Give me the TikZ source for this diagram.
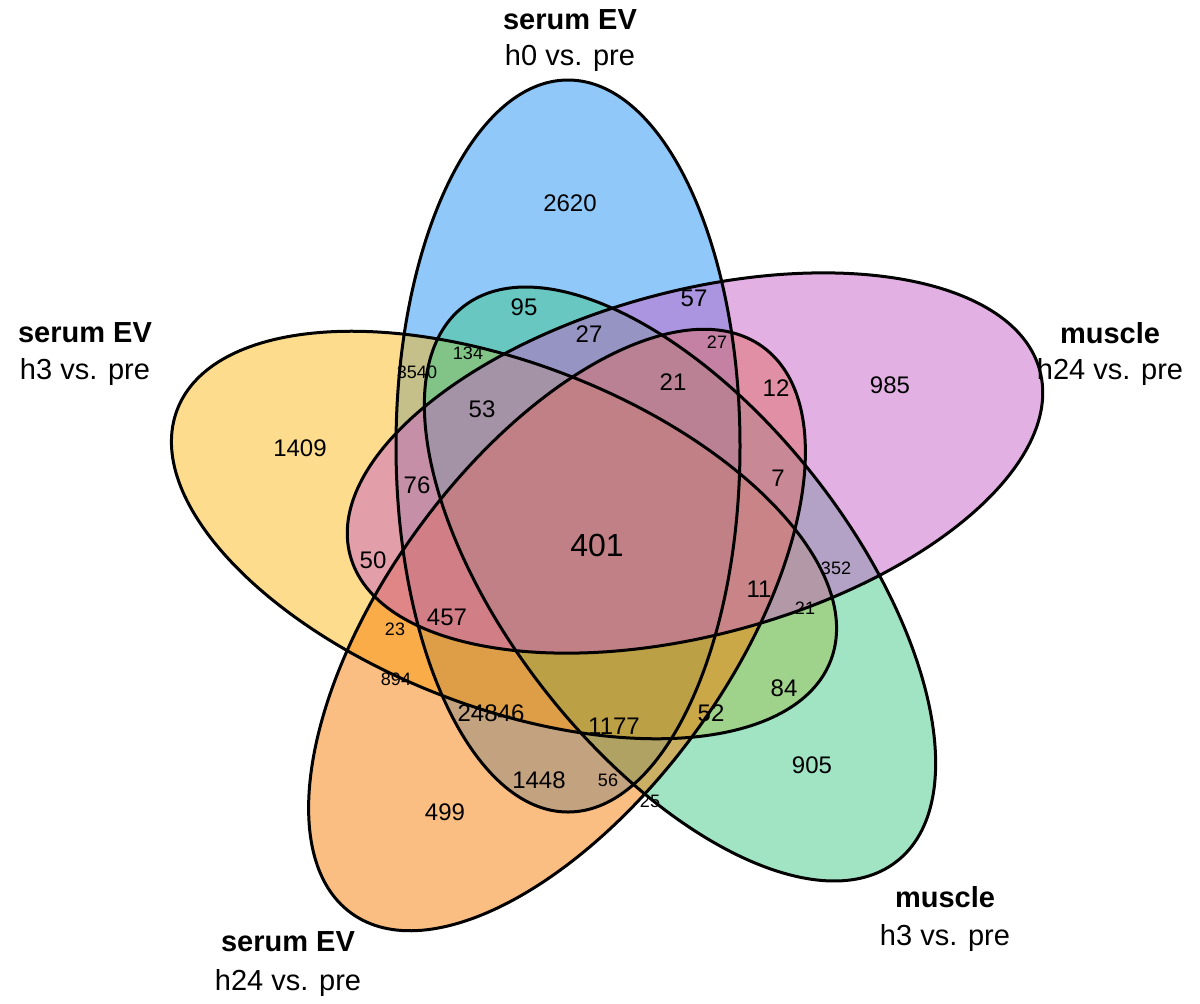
\documentclass[tikz,border=0pt]{standalone}
\usepackage{fontspec}
\setmainfont{Liberation Sans}
\definecolor{cblue}{RGB}{33,145,245}
\definecolor{cyellow}{RGB}{251,185,27}
\definecolor{cpurple}{RGB}{199,97,199}
\definecolor{cgreen}{RGB}{65,201,137}
\definecolor{corange}{RGB}{247,125,5}
\begin{document}
\begin{tikzpicture}[x=0.5pt,y=0.5pt,
  setfill/.style={fill=#1,fill opacity=0.5,draw=none},
  setline/.style={draw=black,line width=1.5pt},
  num/.style={font=\fontsize{12}{14}\selectfont},
  snum/.style={font=\fontsize{9}{11}\selectfont},
  lab/.style={font=\fontsize{14.5}{17}\selectfont\bfseries},
  sub/.style={font=\fontsize{14.5}{17}\selectfont}]
\useasboundingbox (0,0) rectangle (1200,-1003);
\def\rb{172}
\foreach \c/\x/\y/\a/\r in {cblue/568/-446/90/366, cyellow/504/-535/-21/350, cgreen/680/-584/-52/352, corange/557/-630/54/350, cpurple/695/-463/15/357}{
  \fill[setfill=\c, rotate around={\a:(\x,\y)}] (\x,\y) ellipse [x radius=\r, y radius=\rb];
}
\foreach \x/\y/\a/\r in {568/-446/90/366, 504/-535/-21/350, 680/-584/-52/352, 557/-630/54/350, 695/-463/15/357}{
  \draw[setline, rotate around={\a:(\x,\y)}] (\x,\y) ellipse [x radius=\r, y radius=\rb];
}
% labels
\node[lab] (l1) at (570,-20) {serum EV};
\node[sub] (s1) at (570,-58) {h0 vs. pre};
\node[lab] (l2) at (85,-333) {serum EV};
\node[sub] (s2) at (85,-372) {h3 vs. pre};
\node[lab] (l3) at (1110,-333) {muscle};
\node[sub] (s3) at (1110,-372) {h24 vs. pre};
\node[lab] (l4) at (945,-897) {muscle};
\node[sub] (s4) at (945,-938) {h3 vs. pre};
\node[lab] (l5) at (288,-942) {serum EV};
\node[sub] (s5) at (288,-983) {h24 vs. pre};
% numbers
\node[num] (n1) at (570,-203) {2620};
\node[num] (n2) at (300,-448) {1409};
\node[num] (n3) at (890,-385) {985};
\node[num] (n4) at (812,-765) {905};
\node[num] (n5) at (445,-812) {499};
\node[num] (n6) at (524,-307) {95};
\node[num] (n7) at (694,-298) {57};
\node[num] (n8) at (589,-334) {27};
\node[snum] (n9) at (717,-342) {27};
\node[snum] (n10) at (468,-353) {134};
\node[snum] (n11) at (417,-372) {3540};
\node[num] (n12) at (673,-382) {21};
\node[num] (n13) at (776,-388) {12};
\node[num] (n14) at (482,-409) {53};
\node[num] (n15) at (417,-485) {76};
\node[num] (n16) at (778,-478) {7};
\node[font=\fontsize{16}{19}\selectfont] (n17) at (597,-545) {401};
\node[num] (n18) at (373,-560) {50};
\node[snum] (n19) at (836,-568) {352};
\node[num] (n20) at (759,-589) {11};
\node[snum] (n21) at (805,-608) {21};
\node[snum] (n22) at (395,-629) {23};
\node[num] (n23) at (447,-617) {457};
\node[snum] (n24) at (396,-679) {894};
\node[num] (n25) at (784,-688) {84};
\node[num] (n26) at (491,-713) {24846};
\node[num] (n27) at (614,-726) {1177};
\node[num] (n28) at (711,-713) {52};
\node[num] (n29) at (539,-780) {1448};
\node[snum] (n30) at (608,-780) {56};
\node[snum] (n31) at (650,-801) {25};
\end{tikzpicture}
\end{document}
